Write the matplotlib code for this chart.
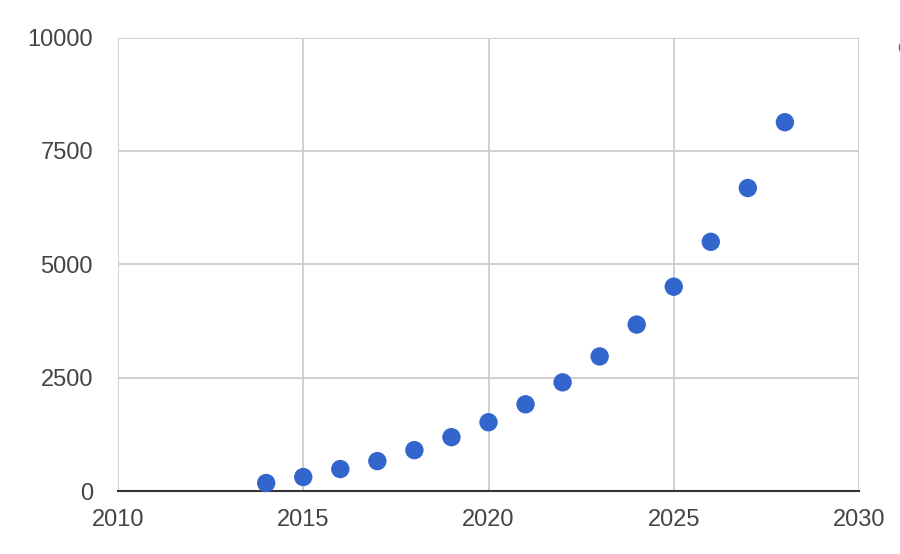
import matplotlib
matplotlib.use("Agg")
import matplotlib.pyplot as plt
from matplotlib.lines import Line2D

years = [2014, 2015, 2016, 2017, 2018, 2019, 2020, 2021, 2022, 2023, 2024, 2025, 2026, 2027, 2028]
values = [176, 308, 484, 659, 901, 1187, 1516, 1912, 2396, 2967, 3670, 4505, 5495, 6681, 8132]
x_ticks = [2010, 2015, 2020, 2025, 2030]
y_ticks = [0, 2500, 5000, 7500, 10000]

plt.rcParams['font.family'] = ['Liberation Sans', 'DejaVu Sans']

fig = plt.figure(figsize=(9, 5.54), dpi=100)
ax = fig.add_axes([118/900, 63/554, (859-118)/900, (491-37.5)/554])

ax.scatter(years, values, s=175, color='#3366cc', edgecolors='none', zorder=3, clip_on=False)

ax.set_xlim(2010, 2030)
ax.set_ylim(0, 10000)
ax.set_xticks(x_ticks)
ax.set_yticks(y_ticks)
ax.set_xticklabels([str(t) for t in x_ticks])
ax.set_yticklabels([str(t) for t in y_ticks])
ax.grid(True, color='#cccccc', linewidth=1.3)
ax.set_axisbelow(True)
for s in ['top', 'right', 'left']:
    ax.spines[s].set_visible(False)
ax.spines['bottom'].set_color('#333333')
ax.spines['bottom'].set_linewidth(1.5)
ax.spines['bottom'].set_zorder(2.5)
ax.tick_params(axis='both', length=0, labelsize=17, labelcolor='#444444')
ax.tick_params(axis='x', pad=13)
ax.tick_params(axis='y', pad=18)

# legend marker cut off at the right edge
fig.add_artist(Line2D([908/900], [1 - 47/554], marker='o', markersize=13,
                      color='#3366cc', linestyle='none', transform=fig.transFigure, clip_on=False))

fig.savefig('out.png', dpi=100)
